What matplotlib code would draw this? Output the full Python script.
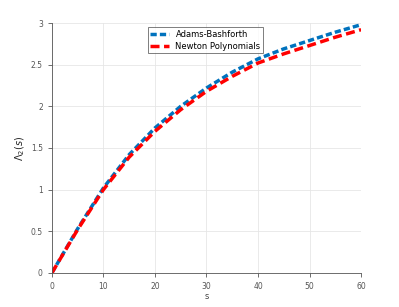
import matplotlib
matplotlib.use("Agg")
import matplotlib.pyplot as plt

# values
s = [0, 5, 10, 15, 20, 25, 30, 35, 40, 45, 50, 55, 60]
adams = [0, 0.53, 1.02, 1.42, 1.74, 2.0, 2.22, 2.41, 2.57, 2.69, 2.79, 2.89, 2.98]
newton = [0, 0.52, 1.0, 1.39, 1.70, 1.96, 2.18, 2.36, 2.52, 2.63, 2.73, 2.83, 2.92]

fig = plt.figure(figsize=(3.99, 3.07), dpi=100)
ax = fig.add_axes([0.130, 0.111, 0.775, 0.814])

ax.plot(s, adams, color='#0072BD', lw=2.5, dashes=(1.8, 0.9), label='Adams-Bashforth')
ax.plot(s, newton, color='#FF0000', lw=2.5, dashes=(2.6, 1.3), label='Newton Polynomials')

ax.set_xlim(0, 60)
ax.set_ylim(0, 3)
ax.set_xticks(range(0, 61, 10))
ax.set_yticks([0, 0.5, 1, 1.5, 2, 2.5, 3])
ax.set_yticklabels(['0', '0.5', '1', '1.5', '2', '2.5', '3'])
ax.grid(True, color='#e6e6e6', lw=0.6)
ax.set_axisbelow(True)
for side in ['top', 'right']:
    ax.spines[side].set_visible(False)
for side in ['left', 'bottom']:
    ax.spines[side].set_color('#555555')
    ax.spines[side].set_linewidth(0.6)
ax.tick_params(labelsize=5.5, colors='#555555', length=3, width=0.6)

ax.set_xlabel('s', fontsize=6, color='#444444', labelpad=1)
ax.set_ylabel(r'$\Lambda_2(s)$', fontsize=7, color='#222222', labelpad=3)

leg = ax.legend(loc='upper center', bbox_to_anchor=(0.497, 1.0), fontsize=6,
                frameon=True, fancybox=False, edgecolor='#444444',
                handlelength=2.2, borderpad=0.3, labelspacing=0.35)
leg.get_frame().set_linewidth(0.6)

fig.savefig('out.png', dpi=100)
